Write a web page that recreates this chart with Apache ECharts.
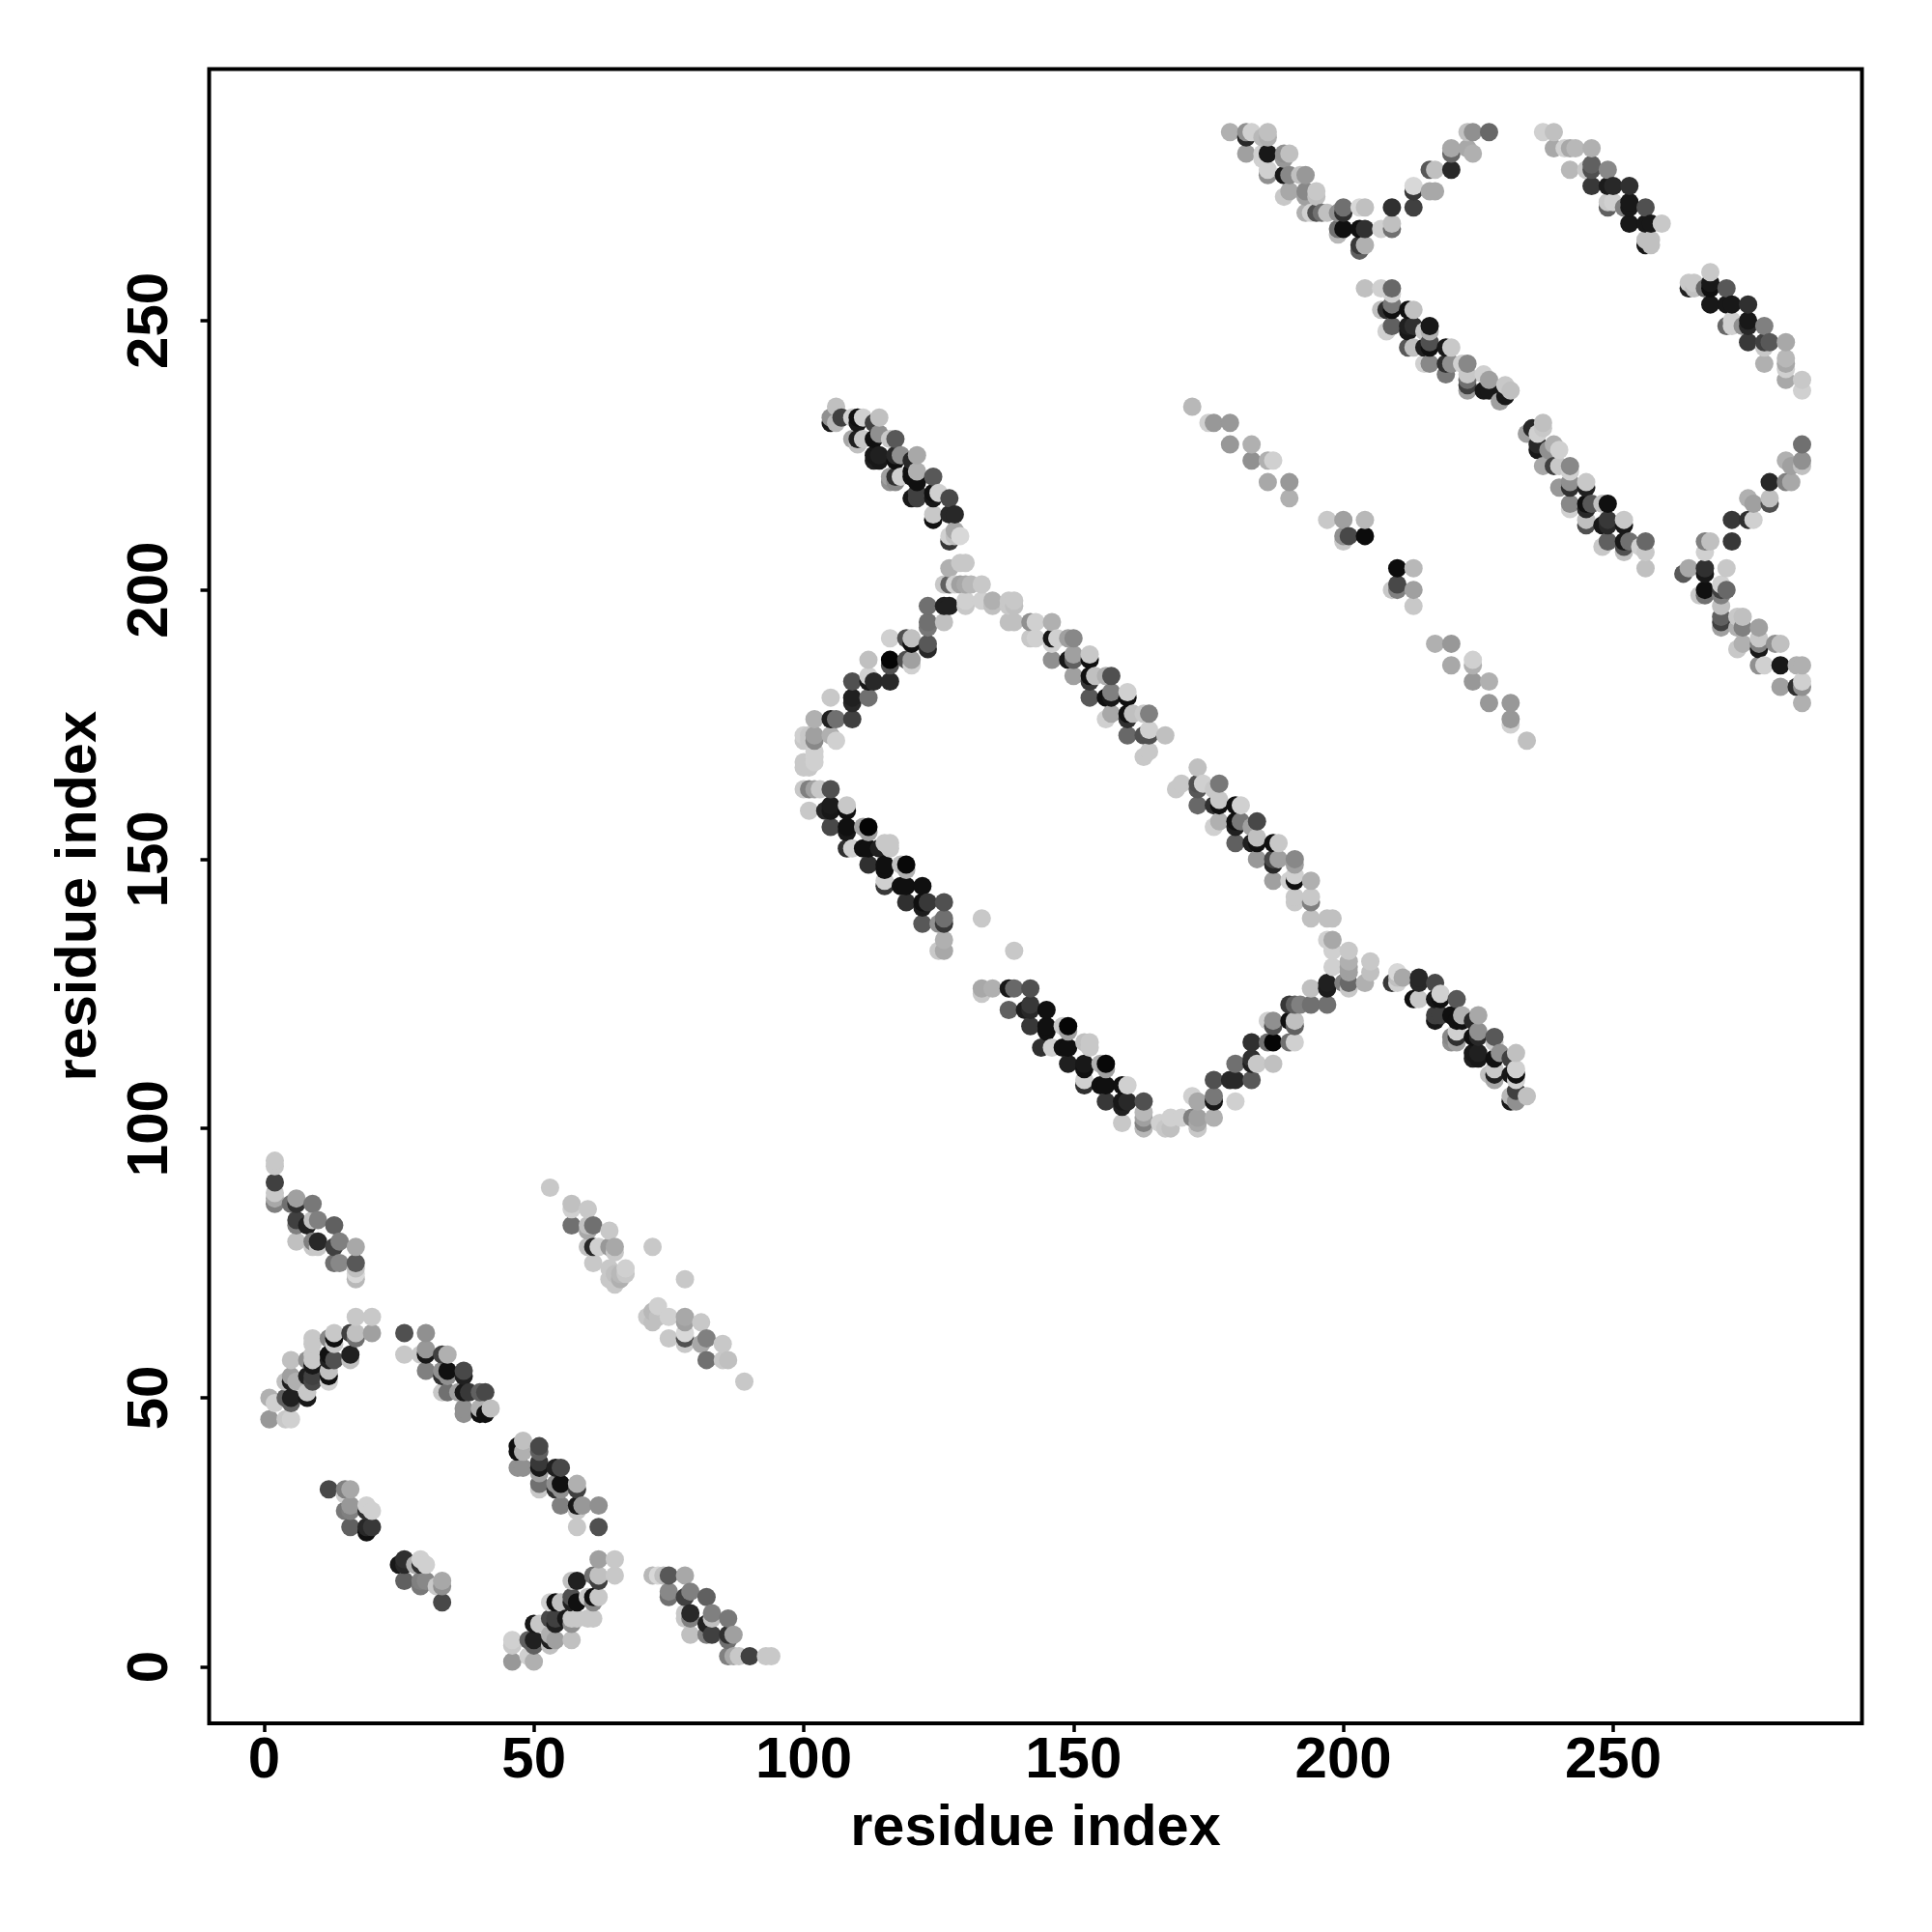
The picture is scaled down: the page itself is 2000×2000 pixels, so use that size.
<!DOCTYPE html>
<html><head><meta charset="utf-8">
<script src="https://cdn.jsdelivr.net/npm/echarts@6/dist/echarts.min.js"></script>
<style>html,body{margin:0;padding:0;background:#fff}#c{width:2000px;height:2000px}</style>
</head><body><div id="c"></div>
<script>
// each point: [residue x, residue y, grey level]
const tickValues=[0,50,100,150,200,250];
const clusterA=[[2,94,200],[2,93,200],[2,90,64],[2,88,200],[2,87,168],[2,86,128],[5,86,112],[6,87,160],[6,86,48],[9,86,120],[6,83,64],[6,82,128],[6,79,192],[9,83,192],[10,83,128],[8,82,32],[10,79,40],[9,79,128],[9,78,200],[10,78,200],[13,82,96],[14,79,128],[13,78,64],[17,78,168],[13,75,112],[14,75,136],[17,75,88],[17,74,192],[17,73,216],[17,72,184]];
const clusterF=[[94,2,200],[93,2,200],[90,2,64],[88,2,200],[87,2,168],[86,2,128],[86,5,112],[87,6,160],[86,6,48],[86,9,120],[83,6,64],[82,6,128],[79,6,192],[83,9,192],[83,10,128],[82,8,32],[79,10,40],[79,9,128],[78,9,200],[78,10,200],[82,13,96],[79,14,128],[78,13,64],[78,17,168],[75,13,112],[75,14,136],[75,17,88],[74,17,192],[73,17,216],[72,17,184]];
const clusterB=[[1,46,152],[4,46,200],[5,46,208],[1,50,176],[2,49,208],[4,50,96],[5,49,96],[5,50,32],[8,50,24],[8,51,200],[4,53,192],[5,54,160],[5,53,32],[6,53,176],[8,54,32],[9,53,72],[9,54,64],[5,57,192],[8,57,144],[9,56,24],[9,57,200],[9,61,200],[9,60,200],[9,58,200],[12,53,208],[12,54,16],[12,55,192],[12,58,16],[12,57,32],[13,57,80],[13,62,200],[12,61,136],[13,61,16],[13,60,200],[16,58,32],[16,57,192],[16,62,64],[17,62,192],[17,61,112],[17,65,200],[20,65,200],[20,62,160]];
const clusterE=[[46,1,152],[46,4,200],[46,5,208],[50,1,176],[49,2,208],[50,4,96],[49,5,96],[50,5,32],[50,8,24],[51,8,200],[53,4,192],[54,5,160],[53,5,32],[53,6,176],[54,8,32],[53,9,72],[54,9,64],[57,5,192],[57,8,144],[56,9,24],[57,9,200],[61,9,200],[60,9,200],[58,9,200],[53,12,208],[54,12,16],[55,12,192],[58,12,16],[57,12,32],[57,13,80],[62,13,200],[61,12,136],[61,13,16],[60,13,200],[58,16,32],[57,16,192],[62,16,64],[62,17,192],[61,17,112],[65,17,200],[65,20,200],[62,20,160]];
const clusterC=[[26,62,80],[30,62,144],[26,58,200],[29,58,200],[30,59,152],[30,58,24],[30,55,128],[33,58,64],[34,58,176],[33,55,144],[33,54,48],[34,55,16],[34,54,144],[37,55,72],[37,54,32],[33,51,200],[34,51,112],[36,51,160],[37,51,24],[38,51,56],[37,48,144],[37,47,144],[40,51,96],[41,51,72],[40,48,176],[40,47,16],[41,47,16],[42,48,192]];
const clusterG=[[62,26,80],[62,30,144],[58,26,200],[58,29,200],[59,30,152],[58,30,24],[55,30,128],[58,33,64],[58,34,176],[55,33,144],[54,33,48],[55,34,16],[54,34,144],[55,37,72],[54,37,32],[51,33,200],[51,34,112],[51,36,160],[51,37,24],[51,38,56],[48,37,144],[47,37,144],[51,40,96],[51,41,72],[48,40,176],[47,40,16],[47,41,16],[48,42,192]];
const clusterD=[[12,33,72],[15,33,128],[16,33,168],[15,32,208],[15,29,120],[16,30,152],[16,29,128],[19,30,208],[20,29,208],[19,29,48],[16,26,96],[19,25,16],[19,26,40],[20,26,56],[25,19,24],[26,20,48],[26,19,40],[28,19,176],[29,20,208],[30,19,208],[29,19,48],[26,16,96],[29,16,128],[30,16,136],[29,15,120],[32,15,200],[33,16,168],[33,15,144],[33,12,72]];
const clusterH=[[53,89,200],[57,86,192],[57,85,208],[60,85,200],[57,82,112],[60,82,192],[61,82,112],[64,81,200],[60,81,168],[60,78,192],[61,78,40],[62,78,208],[64,78,152],[65,78,168],[61,75,200],[65,77,200],[64,74,200],[64,72,200],[65,71,200],[66,73,184],[67,74,208],[66,72,176],[65,73,192],[67,73,200],[71,65,200],[72,64,192],[72,66,184],[73,67,208],[73,65,192],[75,65,208],[75,61,200],[72,78,200],[78,72,200],[78,65,168],[78,64,160],[78,62,216],[78,61,80],[78,60,200],[81,64,200],[81,60,168],[82,61,128],[82,57,112],[85,60,200],[85,57,200],[86,57,192],[89,53,200]];
const clusterI=[[105,163,80],[102,163,160],[100,163,200],[101,163,128],[103,163,200],[101,159,200],[105,160,28],[104,159,40],[105,159,24],[105,156,72],[108,160,200],[108,159,16],[108,156,16],[108,155,24],[111,156,160],[112,156,5],[112,155,160],[108,152,48],[109,152,208],[111,152,16],[112,152,16],[115,153,200],[116,153,200],[116,152,200],[114,152,32],[112,149,48],[115,149,16],[115,148,16],[115,146,208],[115,145,56],[118,149,192],[119,149,8],[119,148,176],[118,145,16],[119,145,16],[122,145,16],[119,142,48],[122,142,16],[123,142,56],[122,141,28],[126,142,80],[122,138,88],[125,138,144],[126,139,112],[126,138,56],[126,135,176],[125,133,200],[126,133,168],[133,139,200],[139,133,200]];
const clusterJ=[[133,126,168],[135,126,176],[133,125,200],[138,126,24],[139,126,104],[142,126,80],[138,122,96],[141,122,28],[142,123,56],[142,122,40],[145,122,16],[142,119,56],[145,119,16],[145,118,16],[148,119,200],[149,119,5],[149,118,160],[146,115,208],[144,115,48],[148,115,16],[149,115,16],[152,116,192],[153,116,200],[153,115,200],[149,112,32],[152,112,24],[152,111,16],[155,112,176],[156,112,8],[156,111,160],[152,109,208],[152,108,48],[155,108,16],[156,108,16],[159,108,16],[160,108,208],[156,105,56],[159,105,24],[160,105,40],[159,104,32],[163,105,80],[159,101,200],[163,103,184],[163,102,160],[163,101,128],[163,100,184]];
const clusterArcLow=[[166,101,208],[167,100,200],[168,100,192],[168,102,208],[170,102,208],[172,102,128],[173,102,160],[173,101,168],[173,100,200],[172,106,208],[173,105,168],[176,106,120],[176,105,24],[176,102,176],[180,105,208],[176,109,80],[179,109,40],[180,109,40],[183,109,88],[180,112,112],[183,113,48],[183,112,32],[184,112,200],[187,112,192],[183,116,48],[186,116,112],[187,116,5],[190,116,112],[191,116,208],[186,120,208],[187,120,144],[187,119,80],[190,120,16],[191,120,192],[191,119,96],[190,123,56],[191,123,96],[192,123,128],[194,123,112],[197,123,112],[194,126,192],[197,127,32],[197,126,28],[201,127,104],[201,129,160],[201,130,160],[201,131,176],[201,133,200],[201,126,200],[200,127,128],[198,130,208],[198,133,208],[198,135,168],[197,135,208],[204,127,176],[205,131,200],[205,129,192]];
const clusterL=[[106,234,192],[105,232,144],[105,231,24],[107,232,64],[106,231,184],[110,232,16],[109,232,208],[111,232,208],[110,231,24],[109,228,168],[110,227,192],[110,228,32],[111,228,200],[113,231,64],[114,232,192],[114,229,144],[113,228,16],[117,228,88],[116,228,200],[114,225,32],[113,224,32],[113,225,24],[114,224,24],[117,224,16],[117,225,40],[118,225,144],[121,225,168],[120,224,40],[116,221,160],[116,220,144],[117,220,136],[117,221,48],[118,221,208],[120,221,16],[120,222,16],[121,222,176],[121,220,16],[124,221,88],[120,217,24],[121,217,64],[121,218,64],[124,217,24],[124,218,16],[125,218,208],[127,217,72],[124,214,200],[124,213,16],[127,214,40],[128,214,40],[127,210,208],[128,210,192],[129,210,216],[127,209,56],[128,211,168]];
const clusterK=[[234,106,192],[232,105,144],[231,105,24],[232,107,64],[231,106,184],[232,110,16],[232,109,208],[232,111,208],[231,110,24],[228,109,168],[227,110,192],[228,110,32],[228,111,200],[231,113,64],[232,114,192],[229,114,144],[228,113,16],[228,117,88],[228,116,200],[225,114,32],[224,113,32],[225,113,24],[224,114,24],[224,117,16],[225,117,40],[225,118,144],[225,121,168],[224,120,40],[221,116,160],[220,116,144],[220,117,136],[221,117,48],[221,118,208],[221,120,16],[222,120,16],[222,121,176],[220,121,16],[221,124,88],[217,120,24],[217,121,64],[218,121,64],[217,124,24],[218,124,16],[218,125,208],[217,127,72],[214,124,200],[213,124,16],[214,127,40],[214,128,40],[210,127,208],[210,128,192],[210,129,216],[209,127,56],[211,128,168]];
const clusterM=[[130,205,200],[129,205,200],[127,204,176],[126,201,200],[127,201,96],[128,201,208],[129,201,160],[130,201,168],[131,201,184],[133,201,200],[123,197,112],[126,197,32],[127,197,32],[130,198,208],[130,197,200],[133,198,208],[135,198,176],[135,197,192],[138,198,200],[138,197,200],[138,194,192],[126,194,192],[123,194,112],[123,193,120],[123,190,88],[123,189,40],[116,191,208],[119,191,80],[120,191,192],[120,190,16],[116,187,5],[116,186,80],[119,187,80],[120,187,160],[120,186,208],[112,187,192],[112,184,208],[109,183,80],[112,183,24],[113,183,40],[116,183,40],[105,180,200],[109,180,32],[109,179,40],[112,180,112],[102,176,176],[105,176,32],[106,176,112],[109,176,64],[100,173,208],[101,173,200],[102,173,160],[102,172,136],[105,173,176],[106,172,208],[102,170,208],[102,169,208],[100,168,200],[101,167,200],[102,168,208],[100,172,200],[101,172,200],[100,167,200],[101,168,200]];
const clusterN=[[139,198,200],[139,197,192],[139,194,192],[142,194,144],[143,194,208],[146,194,176],[142,191,200],[143,191,208],[146,191,24],[147,191,208],[146,190,208],[149,191,160],[150,191,136],[146,187,144],[149,187,24],[150,188,160],[150,187,96],[153,188,200],[153,187,16],[150,184,160],[153,184,16],[153,183,56],[154,184,192],[156,184,176],[157,184,80],[153,180,88],[156,180,16],[157,181,128],[157,180,24],[160,181,208],[160,180,16],[156,176,208],[157,177,168],[160,177,16],[160,176,48],[161,177,192],[163,177,200],[164,177,128],[160,173,104],[163,173,80],[164,174,208],[164,173,80],[167,173,192],[163,169,200],[164,170,200]];
const clusterO=[[173,167,192],[169,163,200],[170,164,200],[173,164,80],[173,163,88],[174,164,208],[177,164,120],[173,160,104],[176,160,48],[176,163,200],[177,161,200],[177,160,16],[180,160,16],[181,160,208],[176,156,208],[177,157,176],[180,157,16],[181,157,120],[180,156,32],[184,157,72],[183,156,160],[180,153,96],[183,153,32],[184,154,192],[184,153,16],[187,153,16],[188,153,200],[184,150,152],[187,150,72],[187,149,40],[188,150,160],[191,150,136],[191,149,160],[187,146,160],[190,146,208],[191,147,208],[191,146,16],[194,146,176],[191,143,200],[191,142,200],[194,143,200],[194,142,128],[194,139,192],[197,139,192],[198,139,192]];
const clusterP=[[172,234,184],[175,231,208],[176,231,152],[179,231,152],[179,227,152],[183,227,176],[183,224,144],[186,224,176],[187,224,208],[186,220,168],[190,220,152],[190,217,176],[197,213,200],[200,213,160],[204,213,184],[200,209,200],[200,210,144],[201,210,72],[204,210,12],[210,204,12],[213,204,184],[209,200,200],[210,200,128],[210,201,72],[213,200,160],[213,197,200],[217,190,176],[220,190,152],[220,186,168],[224,186,176],[224,187,208],[224,183,152],[227,183,176],[227,179,152],[231,179,152],[231,176,152],[231,175,208],[234,172,192]];
const clusterQ=[[179,285,176],[182,285,144],[182,284,40],[183,285,208],[186,285,192],[185,284,184],[186,284,176],[182,281,160],[185,281,208],[186,281,24],[189,281,144],[190,281,192],[189,280,152],[185,280,208],[186,278,208],[186,277,144],[189,277,24],[190,277,136],[192,277,192],[193,277,152],[189,273,200],[190,274,168],[193,274,136],[195,274,200],[195,273,192],[193,273,160],[193,270,176],[194,270,208],[195,270,80],[196,270,112],[197,270,192],[199,270,144],[200,271,112],[200,270,48],[203,271,216],[204,271,192],[199,266,184],[199,267,112],[200,267,16],[203,267,16],[204,267,48],[203,263,96],[203,264,56],[204,264,176],[207,267,208],[209,267,112],[209,268,192],[209,271,48],[213,275,216],[213,274,56],[213,271,64],[216,278,88],[217,278,192],[216,274,168],[217,274,168],[220,278,40],[220,282,168],[220,281,104],[223,282,168],[224,281,176],[223,285,192],[224,285,144],[227,285,104]];
const clusterR=[[204,256,192],[207,256,208],[209,256,104],[209,255,208],[209,253,120],[207,252,192],[208,252,48],[209,252,16],[208,248,208],[209,249,96],[212,252,16],[213,252,192],[212,249,32],[212,248,24],[213,249,48],[215,248,200],[216,249,24],[216,248,176],[212,245,88],[213,245,192],[215,245,32],[216,246,80],[216,245,16],[219,245,24],[220,245,200],[215,242,208],[216,242,136],[219,242,48],[220,242,144],[219,240,120],[223,242,136],[222,242,208],[223,240,200],[223,239,112],[223,238,64],[223,237,160],[226,240,208],[227,239,160],[226,237,24],[227,237,24],[229,235,160],[230,238,200],[231,237,192],[230,236,24]];
const clusterS=[[237,285,208],[239,285,192],[239,282,168],[241,282,208],[242,282,168],[243,282,184],[246,282,176],[242,278,184],[245,278,200],[246,279,96],[246,278,80],[249,278,136],[246,275,56],[249,275,28],[250,275,40],[253,275,48],[249,271,96],[249,272,200],[250,272,208],[252,271,128],[253,272,24],[253,271,24],[256,271,80],[253,268,24],[256,268,24],[257,268,24],[259,268,200],[256,264,24],[256,265,192],[257,265,192],[257,264,192]];
const clusterT=[[264,257,200],[264,256,32],[265,257,200],[265,256,192],[268,259,200],[267,256,104],[268,257,24],[268,256,16],[271,256,88],[268,253,24],[271,253,24],[272,253,24],[275,253,48],[271,249,104],[272,250,208],[272,249,208],[274,249,144],[275,250,24],[275,249,40],[278,249,128],[275,246,56],[278,246,64],[279,246,88],[282,246,168],[278,245,200],[278,242,176],[282,243,184],[282,242,168],[282,241,208],[282,239,168],[285,239,200],[285,237,208]];
const clusterU=[[234,229,160],[235,230,40],[237,231,192],[237,230,200],[236,229,208],[236,227,40],[236,226,24],[239,227,176],[240,226,208],[238,226,144],[237,223,168],[239,223,64],[240,223,200],[242,223,136],[242,222,208],[240,219,152],[242,220,144],[242,219,48],[245,220,200],[245,219,32],[242,216,136],[242,215,208],[245,216,16],[245,215,40],[246,216,88],[248,216,192],[249,216,16],[245,212,80],[245,213,192],[248,212,24],[249,213,56],[249,212,40],[252,212,24],[252,213,200],[248,208,200],[249,209,96],[252,209,24],[252,208,80],[252,207,192],[253,209,112],[255,208,208],[256,209,104],[256,207,200],[256,204,192]];
const clusterV=[[263,203,88],[264,204,168],[267,207,208],[267,204,48],[267,203,24],[267,209,128],[268,209,192],[272,209,56],[272,213,56],[275,213,48],[276,213,208],[275,217,176],[276,216,160],[279,217,192],[279,216,80],[279,220,40],[282,220,128],[283,220,168],[282,224,176],[283,223,160],[285,227,112],[285,224,144],[285,223,192],[267,200,16],[267,199,112],[266,199,200],[270,201,208],[271,204,200],[270,200,64],[271,200,104],[270,199,128],[270,197,192],[270,195,96],[270,194,64],[270,193,160],[273,195,200],[274,195,192],[274,193,128],[273,193,176],[277,193,160],[277,191,200],[277,190,128],[277,189,24],[273,189,200],[274,190,176],[280,190,144],[281,190,192],[277,186,144],[278,186,208],[281,186,24],[284,186,176],[285,186,176],[281,182,160],[284,182,48],[285,183,208],[285,182,144],[285,179,176]];

const allPoints=[].concat(clusterA,clusterF,clusterB,clusterE,clusterC,clusterG,clusterD,clusterH,clusterI,clusterJ,clusterArcLow,clusterL,clusterK,clusterM,clusterN,clusterO,clusterP,clusterQ,clusterR,clusterS,clusterT,clusterU,clusterV)
  .sort((a,b)=>a[0]-b[0]||a[1]-b[1]);

const font={fontFamily:'"Liberation Sans",Arial,sans-serif',fontWeight:'bold',fontSize:60,color:'#000'};
const chart=echarts.init(document.getElementById('c'),null,{renderer:'canvas'});
function axis(extra,min,max){return Object.assign({
  type:'value',min:min,max:max,scale:false,
  name:'residue index',nameLocation:'middle',
  nameTextStyle:Object.assign({},font,{fontSize:59.5}),
  splitLine:{show:false},
  axisLine:{show:false,onZero:false},
  axisTick:{show:true,length:9,inside:false,lineStyle:{color:'#000',width:3.5},customValues:tickValues},
  axisLabel:Object.assign({show:true,customValues:tickValues,hideOverlap:false},font)
},extra);}
const x=axis({position:'bottom',nameGap:80},-10.17,296.1);
x.axisLabel.margin=9;
const y=axis({position:'left',nameGap:104},-10.46,296.7);
y.axisLabel.rotate=90;y.axisLabel.margin=30;
chart.setOption({
  animation:false,backgroundColor:'#fff',
  grid:{show:true,left:216.5,top:71.5,width:1711,height:1712.5,borderColor:'#000',borderWidth:4,backgroundColor:'transparent'},
  xAxis:x,yAxis:y,
  series:[{type:'scatter',data:allPoints,symbol:'circle',symbolSize:19,progressive:0,
    encode:{x:0,y:1},
    itemStyle:{opacity:1,color:p=>{const g=p.value[2];return 'rgb('+g+','+g+','+g+')';}}}]
});
</script></body></html>
